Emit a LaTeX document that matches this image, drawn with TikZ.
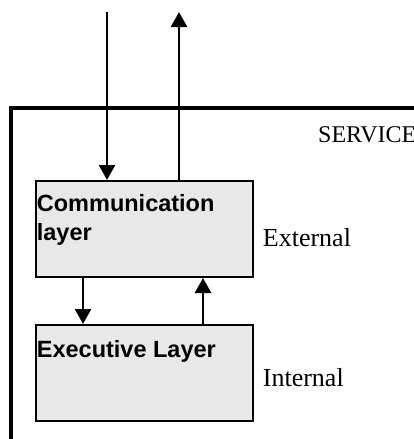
\documentclass[tikz,border=0pt]{standalone}
\usepackage{fontspec}
\setmainfont{Liberation Serif}
\setsansfont{Liberation Sans}
\usetikzlibrary{arrows.meta}
\definecolor{layerfill}{HTML}{E8E8E8}

\tikzset{
  frameline/.style={line width=3.3pt},
  layerbox/.style={draw, line width=2pt, fill=layerfill, inner sep=0pt,
    anchor=north west, minimum width=217pt, minimum height=96pt},
  flow/.style={line width=2.7pt, -{Triangle[width=16pt,length=15pt]}},
  boxtitle/.style={anchor=base west, inner sep=0pt, align=left,
    font=\sffamily\bfseries\fontsize{23.5}{28.3}\selectfont},
  sidenote/.style={anchor=base west, inner sep=0pt,
    font=\rmfamily\fontsize{26}{30}\selectfont},
}

\begin{document}
\begin{tikzpicture}[x=1pt,y=-1pt]
\useasboundingbox (0,0) rectangle (414,439);

% service boundary (continues past the right and lower edges)
\draw[frameline] (11,470) -- (11,108) -- (470,108);
\node[sidenote, font=\rmfamily\fontsize{24}{28}\selectfont] (service) at (318,142.3) {SERVICE};

% the two layers
\node[layerbox] (comm) at (35,180) {};
\node[layerbox] (exec) at (35,324) {};

% base anchor of a two-line title sits on its last line
\node[boxtitle] (commtitle) at (36.7,240) {Communication\\layer};
\node[boxtitle] (exectitle) at (36.7,357.7) {Executive Layer};

\node[sidenote] (external) at (262.7,246.7) {External};
\node[sidenote] (internal) at (262.7,386.7) {Internal};

% external request and reply
\coordinate (reqin) at (107,12);
\coordinate (repout) at (179,12);
\draw[flow] (reqin) -- (comm.north -| reqin);
\draw[flow] (comm.north -| repout) -- (repout);

% traffic between the layers
\coordinate (down) at (83,300);
\coordinate (up) at (203,300);
\draw[flow] (comm.south -| down) -- (exec.north -| down);
\draw[flow] (exec.north -| up) -- (comm.south -| up);
\end{tikzpicture}
\end{document}
